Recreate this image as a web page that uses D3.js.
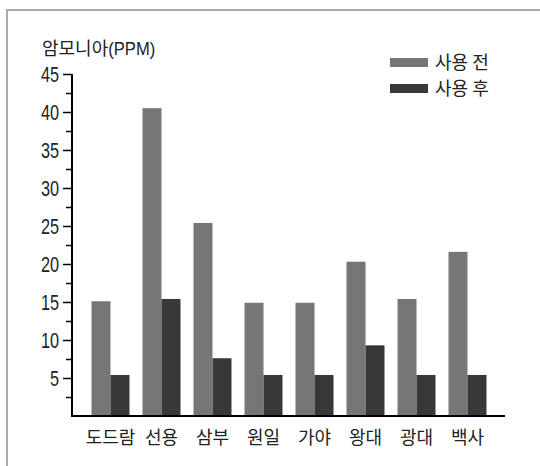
<!DOCTYPE html>
<html>
<head>
<meta charset="utf-8">
<script src="https://cdn.jsdelivr.net/npm/d3@7"></script>
<style>
  body { margin: 0; background: #fff; }
  text { font-family: "Noto Sans CJK KR", sans-serif; }
</style>
</head>
<body>
<script>
// chart data
const categories = ["도드람", "선용", "삼부", "원일", "가야", "왕대", "광대", "백사"];
const seriesNames = ["사용 전", "사용 후"];
const before = [15.1, 40.5, 25.4, 14.9, 14.9, 20.3, 15.4, 21.6];
const after = [5.4, 15.4, 7.6, 5.4, 5.4, 9.3, 5.4, 5.4];
const yTicks = [5, 10, 15, 20, 25, 30, 35, 40, 45];
const colors = ["#767676", "#383838"];

function drawChart() {
  const width = 540, height = 466;

  const svg = d3.select("body").append("svg")
    .attr("width", width)
    .attr("height", height);

  // frame lines (left and top)
  svg.append("path")
    .attr("d", "M7,466 V10 H540")
    .attr("fill", "none")
    .attr("stroke", "#aaa")
    .attr("stroke-width", 2);

  const y = d3.scaleLinear().domain([0, 45]).range([416, 74]);

  const x0 = d3.scaleBand()
    .domain(categories)
    .range([85, 493])
    .paddingInner(0.255)
    .paddingOuter(0.1275);

  const x1 = d3.scaleBand()
    .domain(seriesNames)
    .range([0, x0.bandwidth()]);

  const rows = categories.map((c, i) => ({ cat: c, vals: [before[i], after[i]] }));

  // bars
  const groups = svg.selectAll(".grp")
    .data(rows)
    .enter().append("g")
    .attr("class", "grp")
    .attr("transform", d => "translate(" + x0(d.cat) + ",0)");

  groups.selectAll("rect")
    .data(d => d.vals.map((v, j) => ({ key: seriesNames[j], v: v, j: j })))
    .enter().append("rect")
    .attr("x", d => x1(d.key))
    .attr("width", x1.bandwidth())
    .attr("y", d => y(d.v))
    .attr("height", d => y(0) - y(d.v))
    .attr("fill", d => colors[d.j]);

  // y axis with minor ticks
  const minor = d3.range(2.5, 45, 5);
  const yMinor = svg.append("g").attr("transform", "translate(72,0)")
    .call(d3.axisLeft(y).tickValues(minor).tickSize(6).tickFormat(""));
  yMinor.select(".domain").remove();
  yMinor.selectAll("line").attr("stroke", "#000").attr("stroke-width", 1.5);

  const yAxis = svg.append("g").attr("transform", "translate(72,0)")
    .call(d3.axisLeft(y).tickValues(yTicks).tickSize(9).tickPadding(4).tickSizeOuter(0));
  yAxis.select(".domain").attr("stroke", "#000").attr("stroke-width", 2)
    .attr("d", "M0," + y(45) + "V" + y(0));
  yAxis.selectAll("line").attr("stroke", "#000").attr("stroke-width", 1.5);
  // narrow digits, squeezed around their right edge
  yAxis.selectAll("text")
    .attr("x", 0)
    .attr("dy", "0.34em")
    .attr("transform", "translate(-13,0) scale(0.74,1)")
    .style("font-family", "'Liberation Sans', Arial, sans-serif")
    .attr("font-size", 22)
    .attr("fill", "#222");

  // x axis
  svg.append("line")
    .attr("x1", 71).attr("x2", 505)
    .attr("y1", y(0)).attr("y2", y(0))
    .attr("stroke", "#000").attr("stroke-width", 2);

  svg.selectAll(".xlab")
    .data(categories)
    .enter().append("text")
    .attr("x", d => x0(d) + x0.bandwidth() / 2)
    .attr("y", 444)
    .attr("text-anchor", "middle")
    .attr("font-size", 18)
    .attr("fill", "#222")
    .text(d => d);

  // y title
  const title = svg.append("text")
    .attr("x", 42)
    .attr("y", 55)
    .attr("font-size", 18)
    .attr("fill", "#222");
  title.append("tspan").text("암모니아");
  title.append("tspan")
    .style("font-family", "'Liberation Sans', Arial, sans-serif")
    .attr("font-size", 19)
    .attr("textLength", 47)
    .attr("lengthAdjust", "spacingAndGlyphs")
    .text("(PPM)");

  // legend
  const legend = svg.selectAll(".leg")
    .data(seriesNames)
    .enter().append("g")
    .attr("transform", (d, i) => "translate(390," + (58 + i * 26) + ")");

  legend.append("rect")
    .attr("width", 38).attr("height", 9)
    .attr("fill", (d, i) => colors[i]);

  legend.append("text")
    .attr("x", 45).attr("y", 11)
    .attr("font-size", 18)
    .attr("fill", "#222")
    .text(d => d);
}

drawChart();
</script>
</body>
</html>
